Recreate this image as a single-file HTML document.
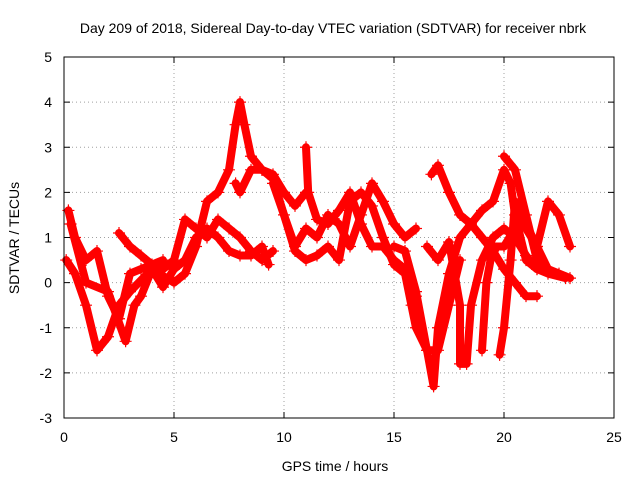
<!DOCTYPE html>
<html><head><meta charset="utf-8"><style>
body{margin:0;background:#fff}
svg text{font-family:"Liberation Sans",sans-serif;font-size:14px;fill:#000}
</style></head><body>
<svg id="chart" width="640" height="480" viewBox="0 0 640 480" xmlns="http://www.w3.org/2000/svg">
<rect width="640" height="480" fill="#fff"/>
<text x="333" y="33" text-anchor="middle">Day 209 of 2018, Sidereal Day-to-day VTEC variation (SDTVAR) for receiver nbrk</text>
<g id="grid"></g>
<g id="series"></g>
<rect x="64" y="57" width="550" height="361" fill="none" stroke="#000" stroke-width="1"/>
<g id="ticks"></g>
<text x="335" y="471" text-anchor="middle">GPS time / hours</text>
<text x="0" y="0" text-anchor="middle" transform="translate(19,238) rotate(-90)">SDTVAR / TECUs</text>
</svg>
<script>
const xTicks=[0,5,10,15,20,25];
const yTicks=[-3,-2,-1,0,1,2,3,4,5];
const trackA=[[0.2,1.6],[0.5,1.0],[1,0.5],[1.5,0.7],[2,-0.3],[2.5,-0.8],[3,0.2],[3.5,0.3],[4,0.4],[4.5,0.3],[5,0.5],[5.5,1.4],[6,1.2],[6.5,1.0],[7,1.4],[7.5,1.2],[8,1.0],[8.5,0.7],[9,0.5],[9.5,0.7]];
const trackB=[[0.1,0.5],[0.5,0.2],[1,-0.5],[1.5,-1.5],[2,-1.2],[2.5,-0.5],[3,-0.2],[4,0.3],[5,0],[5.5,0.2],[6,0.8],[6.5,1.8],[7,2.0],[7.5,2.5],[7.8,3.5],[8,4.0],[8.2,3.5],[8.5,2.8],[9,2.5],[9.5,2.4],[10,2.0],[10.5,1.7],[11,2.0]];
const trackC=[[0.3,1.3],[1,0],[2,-0.2],[2.8,-1.3],[3.2,-0.5],[3.5,-0.3],[4,0.3],[4.5,-0.1],[5,0.3],[5.5,0.5],[6,1.0],[6.5,1.2],[7,1.0],[7.5,0.7],[8,0.6],[8.5,0.6],[9,0.8],[9.3,0.4]];
const trackD=[[2.5,1.1],[3,0.8],[3.5,0.6],[4,0.4],[4.5,0.5]];
const trackE=[[7.8,2.2],[8,2.0],[8.5,2.5],[9,2.5],[9.5,2.3],[10,1.5],[10.5,0.7],[11,0.5],[11.5,0.6],[12,0.8],[12.5,0.5],[13,1.8],[13.5,2.0],[14,1.7],[14.5,1.0],[15,0.4],[15.5,0.2],[16,-1.0],[16.5,-1.5],[16.8,-2.3],[17,-1.0],[17.5,0.2],[18,1.0],[18.5,1.3],[19,1.6],[19.5,1.8],[20,2.5],[20.3,2.2],[20.5,1.5],[21,0.5],[21.5,0.3],[22,0.2],[22.8,0.1]];
const trackF=[[9.5,2.2],[10,1.5],[10.5,0.8],[11,1.2],[11.5,1.0],[12,1.5],[12.5,1.3],[13,0.8],[13.5,1.5],[14,2.2],[14.5,1.8],[15,1.3],[15.5,1.0],[16,1.2]];
const trackG=[[11,3.0],[11.1,2.0],[11.5,1.4],[12,1.3],[12.5,1.6],[13,2.0],[13.5,1.3],[14,0.8],[14.5,0.8],[15,0.5],[15.5,0.3],[15.8,-0.5],[16,-0.3]];
const trackH=[[16.5,0.8],[17,0.5],[17.5,0.9],[18,-0.5],[18,-1.8],[18.3,-1.8],[18.5,-0.5],[19,0.5],[19.5,1.0],[20,1.2],[20.5,1.0],[21,0.6],[21.5,0.3]];
const trackI=[[16.7,2.4],[17,2.6],[17.5,2.0],[18,1.5],[18.5,1.3],[19,1.0],[19.5,0.7],[20,0.3],[20.5,0],[21,-0.3],[21.5,-0.3]];
const trackJ=[[19,-1.5],[19.2,0],[19.5,0.8],[20,0.8],[20.5,1.2],[21,1.3],[21.5,0.8],[22,0.3]];
const trackK=[[19.8,-1.6],[20,-1],[20.3,0.5],[20.5,1.8],[21,1.2],[21.5,0.8],[22,1.8],[22.5,1.5],[23,0.8]];
const trackL=[[20,2.8],[20.5,2.5],[21,1.5],[21.5,0.5],[22,0.3],[22.5,0.2],[23,0.1]];
const trackM=[[15,0.8],[15.5,0.7],[16,-0.2],[16.5,-1.5],[17,-1.5],[17.5,-0.5],[18,0.5]];
const tracks=[trackA,trackB,trackC,trackD,trackE,trackF,trackG,trackH,trackI,trackJ,trackK,trackL,trackM];
const NS="http://www.w3.org/2000/svg";
const X0=64,X1=614,Y0=418,Y1=57;
function sx(v){return X0+(v-0)/(25-0)*(X1-X0);}
function sy(v){return Y0-(v+3)/(5+3)*(Y0-Y1);}
function mk(t,a,p){const e=document.createElementNS(NS,t);for(const k in a)e.setAttribute(k,a[k]);p.appendChild(e);return e;}
const grid=document.getElementById('grid'),ticks=document.getElementById('ticks'),ser=document.getElementById('series');
xTicks.forEach(t=>{const x=sx(t);
 if(t>0&&t<25){const g=mk('line',{x1:x,x2:x,y1:Y1,y2:Y0,stroke:'#a0a0a0','stroke-dasharray':'1,3'},grid);}
 const l=mk('line',{x1:x,x2:x,y1:Y0,y2:Y0-6,stroke:'#000'},ticks);
 const l2=mk('line',{x1:x,x2:x,y1:Y1,y2:Y1+6,stroke:'#000'},ticks);
 const tx=mk('text',{x:x,y:442,'text-anchor':'middle'},ticks);tx.textContent=t;});
yTicks.forEach(t=>{const y=sy(t);
 if(t>-3&&t<5){const g=mk('line',{x1:X0,x2:X1,y1:y,y2:y,stroke:'#a0a0a0','stroke-dasharray':'1,3'},grid);}
 const l=mk('line',{x1:X0,x2:X0+6,y1:y,y2:y,stroke:'#000'},ticks);
 const l2=mk('line',{x1:X1,x2:X1-6,y1:y,y2:y,stroke:'#000'},ticks);
 const tx=mk('text',{x:52,y:y+5,'text-anchor':'end'},ticks);tx.textContent=t;});
tracks.forEach(tr=>{
 const d=tr.map((p,i)=>(i?'L':'M')+sx(p[0]).toFixed(1)+','+sy(p[1]).toFixed(1)).join(' ');
 const path=mk('path',{d:d,fill:'none',stroke:'#f00','stroke-width':8,'stroke-linejoin':'round','stroke-linecap':'round'},ser);
 
 
 tr.forEach(p=>{const x=sx(p[0]),y=sy(p[1]);
  const m=mk('path',{d:`M${x-6},${y}H${x+6}M${x},${y-6}V${y+6}`,stroke:'#f00','stroke-width':1.2},ser);
  
  });
});
</script>
</body></html>
